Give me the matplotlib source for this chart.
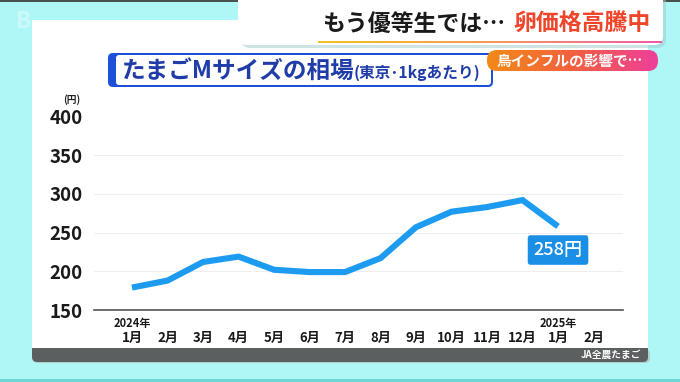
import numpy as np
import matplotlib
matplotlib.use("Agg")
import matplotlib.pyplot as plt
from matplotlib.patches import FancyBboxPatch, Rectangle
from matplotlib.colors import LinearSegmentedColormap

plt.rcParams['font.family'] = ['Noto Sans CJK JP', 'DejaVu Sans']

# ---- data ----
months = ['1月', '2月', '3月', '4月', '5月', '6月', '7月', '8月', '9月',
          '10月', '11月', '12月', '1月', '2月']
prices = [179, 188, 212, 219, 202, 199, 199, 217, 257, 277, 283, 292, 258]
yticks = [150, 200, 250, 300, 350, 400]
year_labels = {0: '2024年', 12: '2025年'}
last_label = '258円'
title_main = 'たまごMサイズの相場'
title_sub = '(東京･1kgあたり)'
headline_black = 'もう優等生では…'
headline_red = '卵価格高騰中'
pill_text = '鳥インフルの影響で…'
source_text = 'JA全農たまご'
unit_text = '(円)'

W, H = 680, 382
fig = plt.figure(figsize=(W / 100, H / 100), dpi=100)
fig.patch.set_facecolor('#aef7f6')

# ---- background / decoration layer in pixel coords ----
bg = fig.add_axes([0, 0, 1, 1], zorder=0)
bg.set_xlim(0, W)
bg.set_ylim(H, 0)
bg.axis('off')

bg.add_patch(Rectangle((0, 0), W, 2, color='#4a4f50', lw=0))
bg.add_patch(Rectangle((0, 379), W, 3, color='#6fd6d6', lw=0))

# faint logo
bg.text(16, 22, 'B', fontsize=16, fontweight='bold', color='white', alpha=0.35,
        va='center', ha='left')

# main white panel + gray footer
bg.add_patch(FancyBboxPatch((33, 349), 617, 14, boxstyle='round,pad=0,rounding_size=5',
                            fc='#b0b4b4', ec='none', alpha=0.6))
bg.add_patch(FancyBboxPatch((32, 20), 616, 342, boxstyle='round,pad=0,rounding_size=5',
                            fc='#5b5f5f', ec='none'))
bg.add_patch(Rectangle((32, 20), 616, 328, fc='white', ec='none'))
bg.text(641, 355, source_text, color='white', fontsize=7, fontweight='bold',
        ha='right', va='center')

# headline box (shadow + white)
bg.add_patch(FancyBboxPatch((241, -8), 425, 56, boxstyle='round,pad=0,rounding_size=9',
                            fc='#9ec9c9', ec='none', alpha=0.5))
bg.add_patch(FancyBboxPatch((238, -10), 425, 55, boxstyle='round,pad=0,rounding_size=9',
                            fc='white', ec='none'))
bg.text(322, 24, headline_black, color='#1a1a1a', fontsize=16.5, fontweight='bold',
        ha='left', va='center')
bg.text(513, 24, headline_red, color='#ee452b', fontsize=16.5, fontweight='bold',
        ha='left', va='center')
grad = np.linspace(0, 1, 256).reshape(1, -1)
ul_cmap = LinearSegmentedColormap.from_list('ul', ['#f2c21e', '#f59a5a', '#f05aa8'])
bg.imshow(grad, cmap=ul_cmap, extent=(318, 662, 43, 41), aspect='auto', zorder=3)

# orange pill
pill_cmap = LinearSegmentedColormap.from_list('pill', ['#f38a16', '#f2603f', '#ee3f9b'])
pill = FancyBboxPatch((487, 50), 171, 21, boxstyle='round,pad=0,rounding_size=10',
                      fc='none', ec='none')
bg.add_patch(pill)
im = bg.imshow(grad, cmap=pill_cmap, extent=(487, 658, 71, 50), aspect='auto', zorder=3)
im.set_clip_path(pill)
bg.text(497, 60.5, pill_text, color='white', fontsize=10.5, fontweight='bold',
        ha='left', va='center', zorder=4)

# title box
bg.add_patch(FancyBboxPatch((108, 53), 385, 34, boxstyle='round,pad=0,rounding_size=5',
                            fc='#1d4fd8', ec='none'))
bg.add_patch(FancyBboxPatch((116, 55), 375, 30, boxstyle='round,pad=0,rounding_size=3',
                            fc='white', ec='none'))
bg.text(122, 70.5, title_main, color='#1f3ca8', fontsize=17, fontweight='bold',
        ha='left', va='center')
bg.text(354, 72.5, title_sub, color='#1f3ca8', fontsize=11.3, fontweight='bold',
        ha='left', va='center')

# unit label
bg.text(72, 100, unit_text, color='#222222', fontsize=7, fontweight='bold',
        ha='center', va='center')

# ---- chart axes ----
left, right = 94 / W, 623 / W
bottom, top = 1 - 310 / H, 1 - 116.5 / H
ax = fig.add_axes([left, bottom, right - left, top - bottom], zorder=2)
ax.set_facecolor('none')
x = np.arange(len(prices))
ax.set_xlim(-1.07, 13.83)
ax.set_ylim(yticks[0], yticks[-1])

for yv in yticks[1:-1]:
    ax.axhline(yv, color='#eeeeee', lw=0.8, zorder=1)

ax.plot(x, prices, color='#1d9bf0', lw=4.4, solid_capstyle='butt',
        solid_joinstyle='miter', zorder=3)

for s in ['top', 'right', 'left']:
    ax.spines[s].set_visible(False)
ax.spines['bottom'].set_color('#555555')
ax.spines['bottom'].set_linewidth(1.2)

ax.set_yticks(yticks)
ax.set_yticklabels([str(v) for v in yticks], fontsize=13.5, fontweight='bold',
                   color='#1a1a1a')
ax.tick_params(axis='y', length=0, pad=8)
ax.set_xticks(np.arange(len(months)))
ax.set_xticklabels(months, fontsize=9.5, fontweight='bold', color='#1a1a1a')
ax.tick_params(axis='x', length=0, pad=15)

for idx, lab in year_labels.items():
    ax.annotate(lab, xy=(idx, 0), xycoords=('data', 'axes fraction'),
                xytext=(0, -9.5), textcoords='offset points', ha='center', va='center',
                fontsize=8, fontweight='bold', color='#1a1a1a')

ax.annotate(last_label, xy=(x[-1], prices[-1]), xycoords='data',
            xytext=(0, -17), textcoords='offset points', ha='center', va='center',
            fontsize=13, fontweight='medium', color='white', zorder=5,
            bbox=dict(boxstyle='round,pad=0.32,rounding_size=0.15', fc='#1b8fe6', ec='none'))

fig.savefig('out.png', dpi=100, facecolor=fig.get_facecolor())
